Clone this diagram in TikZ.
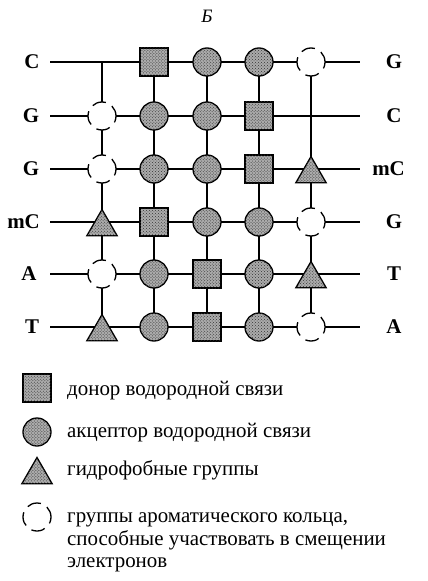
\documentclass[tikz,border=0pt]{standalone}
\usepackage{fontspec}
\setmainfont{Liberation Serif}
\usetikzlibrary{shapes.geometric,patterns}
\begin{document}
\begin{tikzpicture}[x=1bp,y=-1bp,
  hatch/.style={fill=black!33, postaction={pattern=crosshatch dots, pattern color=black!80}},
  sq/.style={draw, line width=1.4bp, hatch, minimum size=28bp, inner sep=0pt},
  ci/.style={circle, draw, line width=1.3bp, hatch, minimum size=28bp, inner sep=0pt},
  tri/.style={regular polygon, regular polygon sides=3, draw, line width=1.3bp, hatch, minimum size=35bp, inner sep=0pt, yshift=-5bp},
  ring/.style={circle, draw, line width=1.3bp, fill=white, dash pattern=on 14bp off 7bp, dash phase=3bp, minimum size=28bp, inner sep=0pt},
  hl/.style={line width=1.5bp},
  vl/.style={line width=1.2bp},
  lab/.style={font=\fontsize{21}{25}\selectfont\bfseries, inner sep=0pt},
  ltxt/.style={font=\fontsize{21}{25}\selectfont, inner sep=0pt, anchor=base west}
]
\useasboundingbox (0,0) rectangle (427,581);

\node[font=\fontsize{19}{23}\selectfont\itshape] (title) at (207,16) {Б};

% grid coordinates g<col><row>
\foreach \c/\x in {1/102,2/154,3/207,4/259,5/311}{
  \foreach \r/\y in {1/62,2/116,3/169,4/222,5/274,6/327}{
    \coordinate (g\c\r) at (\x,\y);
  }
}
\foreach \r/\y in {1/62,2/116,3/169,4/222,5/274,6/327}{
  \coordinate (L\r) at (50,\y);
  \coordinate (R\r) at (360,\y);
}

% connectors
\foreach \r in {1,...,6}{
  \draw[hl] (L\r) -- (g1\r) -- (g2\r) -- (g3\r) -- (g4\r) -- (g5\r) -- (R\r);
}
\foreach \c in {1,...,5}{
  \draw[vl] (g\c1) -- (g\c2) -- (g\c3) -- (g\c4) -- (g\c5) -- (g\c6);
}

% row 1
\node[sq]   (s21) at (g21) {};
\node[ci]   (s31) at (g31) {};
\node[ci]   (s41) at (g41) {};
\node[ring] (s51) at (g51) {};
% row 2
\node[ring] (s12) at (g12) {};
\node[ci]   (s22) at (g22) {};
\node[ci]   (s32) at (g32) {};
\node[sq]   (s42) at (g42) {};
% row 3
\node[ring] (s13) at (g13) {};
\node[ci]   (s23) at (g23) {};
\node[ci]   (s33) at (g33) {};
\node[sq]   (s43) at (g43) {};
\node[tri]  (s53) at (g53) {};
% row 4
\node[tri]  (s14) at (g14) {};
\node[sq]   (s24) at (g24) {};
\node[ci]   (s34) at (g34) {};
\node[ci]   (s44) at (g44) {};
\node[ring] (s54) at (g54) {};
% row 5
\node[ring] (s15) at (g15) {};
\node[ci]   (s25) at (g25) {};
\node[sq]   (s35) at (g35) {};
\node[ci]   (s45) at (g45) {};
\node[tri]  (s55) at (g55) {};
% row 6
\node[tri]  (s16) at (g16) {};
\node[ci]   (s26) at (g26) {};
\node[sq]   (s36) at (g36) {};
\node[ci]   (s46) at (g46) {};
\node[ring] (s56) at (g56) {};

% strand labels
\node[lab] (l1) at (32,62) {C};
\node[lab] (l2) at (31,116) {G};
\node[lab] (l3) at (31,169) {G};
\node[lab, anchor=east] (l4) at (40,222) {mC};
\node[lab] (l5) at (29,274) {A};
\node[lab] (l6) at (32,327) {T};
\node[lab] (r1) at (394,62) {G};
\node[lab] (r2) at (394,116) {C};
\node[lab, anchor=east] (r3) at (405,169) {mC};
\node[lab] (r4) at (394,222) {G};
\node[lab] (r5) at (394,274) {T};
\node[lab] (r6) at (394,327) {A};

% legend
\node[sq]   (k1) at (37,388) {};
\node[ci]   (k2) at (37,432) {};
\node[tri]  (k3) at (37,470) {};
\node[ring] (k4) at (37,517) {};
\node[ltxt] (t1) at (67,395) {донор водородной связи};
\node[ltxt] (t2) at (67,437) {акцептор водородной связи};
\node[ltxt] (t3) at (67,475) {гидрофобные группы};
\node[ltxt] (t4a) at (67,522) {группы ароматического кольца,};
\node[ltxt] (t4b) at (67,545) {способные участвовать в смещении};
\node[ltxt] (t4c) at (67,567) {электронов};
\end{tikzpicture}
\end{document}
